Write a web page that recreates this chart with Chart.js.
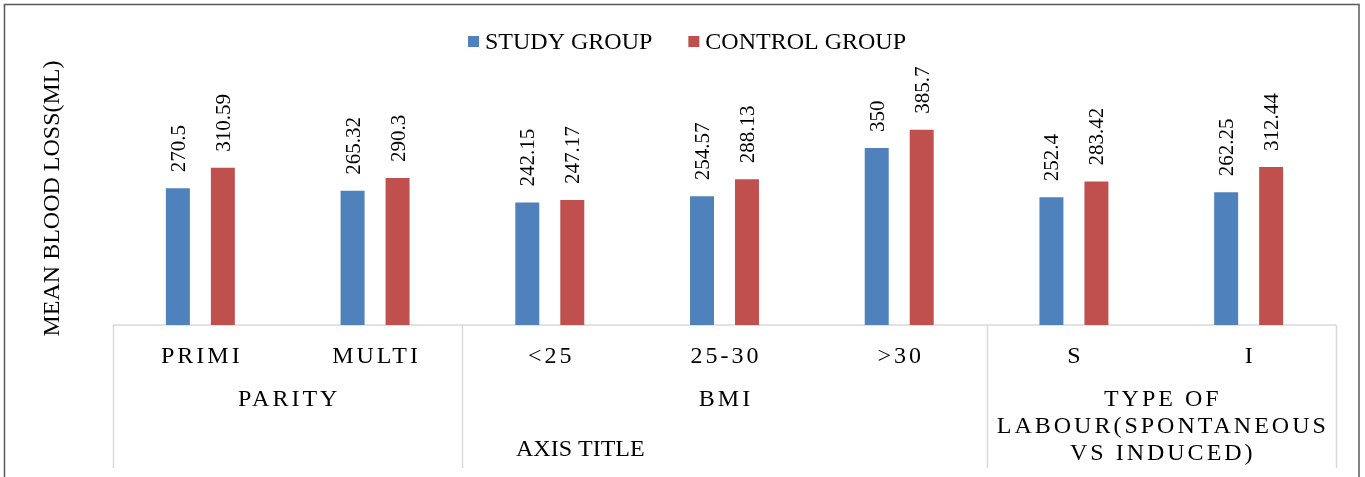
<!DOCTYPE html>
<html>
<head>
<meta charset="utf-8">
<script src="https://cdn.jsdelivr.net/npm/chart.js@4"></script>
<style>
  html, body { margin: 0; padding: 0; background: #fff; }
  canvas { display: block; }
</style>
</head>
<body>
<canvas id="chart" width="1365" height="477"></canvas>
<script>
// Mean blood loss by parity, BMI and type of labour
const categories = ['PRIMI', 'MULTI', '<25', '25-30', '>30', 'S', 'I'];
const groupLabels = [['PARITY'], ['BMI'], ['TYPE OF', 'LABOUR(SPONTANEOUS', 'VS INDUCED)']];
const groupSpans = [2, 3, 2];
const seriesNames = ['STUDY GROUP', 'CONTROL GROUP'];
const studyGroup = [270.5, 265.32, 242.15, 254.57, 350, 252.4, 262.25];
const controlGroup = [310.59, 290.3, 247.17, 288.13, 385.7, 283.42, 312.44];
const yTitle = 'MEAN BLOOD LOSS(ML)';
const xTitle = 'AXIS TITLE';

const SERIF = "'Liberation Serif', 'Times New Roman', serif";
const COLORS = ['#4F81BD', '#C0504D'];

// white background and the dark outer frame
const framePlugin = {
  id: 'frame',
  beforeDraw(chart) {
    const ctx = chart.ctx;
    ctx.save();
    ctx.fillStyle = '#fff';
    ctx.fillRect(0, 0, chart.width, chart.height);
    ctx.strokeStyle = '#595959';
    ctx.lineWidth = 1.5;
    ctx.strokeRect(4.5, 4.5, chart.width - 10.5, chart.height + 20);
    ctx.restore();
  }
};

// two-level category axis: baseline, group separators, labels, titles
const categoryAxisPlugin = {
  id: 'categoryAxis',
  beforeDatasetsDraw(chart) {
    const ctx = chart.ctx;
    const x = chart.scales.x;
    const area = chart.chartArea;
    const step = x.getPixelForValue(1) - x.getPixelForValue(0);
    const edge = i => x.getPixelForValue(i) - step / 2;

    ctx.save();
    ctx.strokeStyle = '#d9d9d9';
    ctx.lineWidth = 1.5;
    ctx.beginPath();
    ctx.moveTo(area.left, area.bottom);
    ctx.lineTo(area.right, area.bottom);
    const bounds = [0];
    groupSpans.forEach(s => bounds.push(bounds[bounds.length - 1] + s));
    bounds.forEach(b => {
      const px = Math.round(edge(b)) + 0.5;
      ctx.moveTo(px, area.bottom);
      ctx.lineTo(px, area.bottom + 143);
    });
    ctx.stroke();

    ctx.fillStyle = '#000';
    ctx.font = '24px ' + SERIF;
    ctx.letterSpacing = '3px';
    ctx.textAlign = 'center';
    ctx.textBaseline = 'alphabetic';
    categories.forEach((c, i) => {
      ctx.fillText(c, x.getPixelForValue(i) + 1.5, area.bottom + 38);
    });
    groupLabels.forEach((lines, g) => {
      const cx = (edge(bounds[g]) + edge(bounds[g + 1])) / 2 + 1.5;
      lines.forEach((line, k) => {
        ctx.fillText(line, cx, area.bottom + 81 + k * 27);
      });
    });

    ctx.letterSpacing = '0px';
    ctx.textAlign = 'left';
    ctx.fillText(xTitle, 516, area.bottom + 131);

    // vertical value-axis title
    ctx.translate(59, (area.top + area.bottom) / 2);
    ctx.rotate(-Math.PI / 2);
    ctx.textAlign = 'center';
    ctx.fillText(yTitle, 0, 0);
    ctx.restore();
  }
};

// rotated value labels above each bar
const valueLabelPlugin = {
  id: 'valueLabels',
  afterDatasetsDraw(chart) {
    const ctx = chart.ctx;
    ctx.save();
    ctx.fillStyle = '#000';
    ctx.font = '21px ' + SERIF;
    ctx.textAlign = 'left';
    ctx.textBaseline = 'alphabetic';
    chart.data.datasets.forEach((ds, di) => {
      chart.getDatasetMeta(di).data.forEach((bar, i) => {
        ctx.save();
        ctx.translate(bar.x + 7, bar.y - 16);
        ctx.rotate(-Math.PI / 2);
        ctx.fillText(String(ds.data[i]), 0, 0);
        ctx.restore();
      });
    });
    ctx.restore();
  }
};

// legend across the top
const legendPlugin = {
  id: 'topLegend',
  afterDraw(chart) {
    const ctx = chart.ctx;
    ctx.save();
    ctx.font = '24px ' + SERIF;
    ctx.textBaseline = 'alphabetic';
    ctx.textAlign = 'left';
    let px = 468;
    seriesNames.forEach((name, i) => {
      ctx.fillStyle = COLORS[i];
      ctx.fillRect(px, 36, 11, 11);
      ctx.fillStyle = '#000';
      ctx.fillText(name, px + 17, 49);
      px += 17 + ctx.measureText(name).width + 36;
    });
    ctx.restore();
  }
};

new Chart(document.getElementById('chart'), {
  type: 'bar',
  data: {
    labels: categories,
    datasets: [
      { label: seriesNames[0], data: studyGroup, backgroundColor: COLORS[0],
        categoryPercentage: 0.515, barPercentage: 0.533 },
      { label: seriesNames[1], data: controlGroup, backgroundColor: COLORS[1],
        categoryPercentage: 0.515, barPercentage: 0.533 }
    ]
  },
  options: {
    responsive: false,
    devicePixelRatio: 1,
    animation: false,
    layout: { padding: { left: 113, right: 29, top: 72, bottom: 152 } },
    scales: {
      x: { type: 'category', display: false },
      y: { display: false, min: 0, max: 500 }
    },
    plugins: {
      legend: { display: false },
      tooltip: { enabled: false }
    }
  },
  plugins: [framePlugin, categoryAxisPlugin, valueLabelPlugin, legendPlugin]
});
</script>
</body>
</html>
